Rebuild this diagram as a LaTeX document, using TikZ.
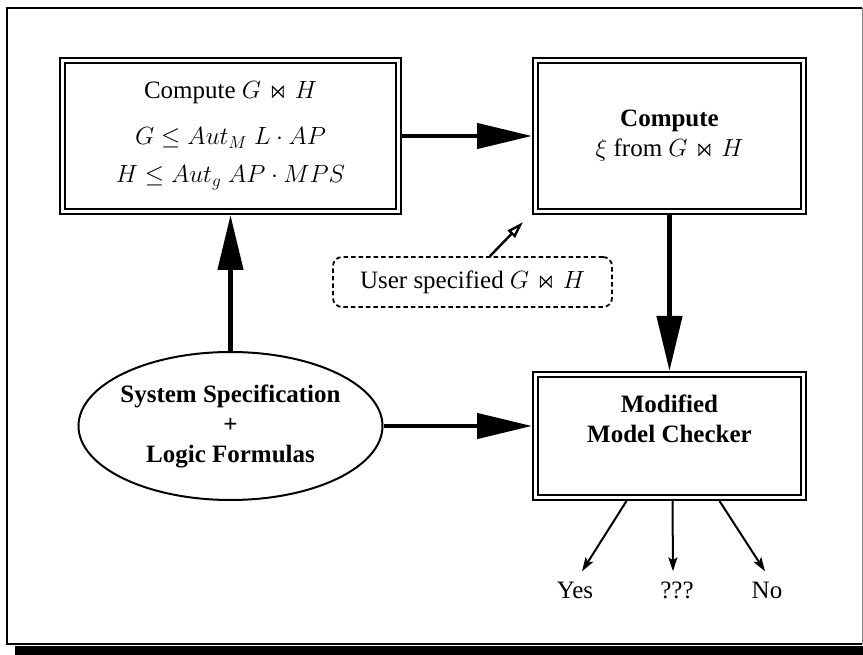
\documentclass[tikz,border=0pt]{standalone}
\usepackage{amsmath,amssymb}
\usepackage{fontspec}
\setmainfont{Liberation Serif}
\usetikzlibrary{positioning,arrows.meta,shapes.geometric}

\begin{document}
\begin{tikzpicture}[
  x=1pt,y=-1pt,
  font=\fontsize{25}{30}\selectfont,
  dbox/.style={draw,double,double distance=2.6pt,line width=2.3pt,minimum width=268pt,minimum height=151pt,inner sep=0pt,outer sep=3.5pt,align=center},
  spec/.style={draw,ellipse,line width=2pt,minimum width=304pt,minimum height=148pt,inner sep=0pt,outer sep=1pt,align=center,font=\fontsize{25}{30}\selectfont\bfseries},
  usr/.style={draw,dashed,dash pattern=on 4.5pt off 3pt,rounded corners=9pt,line width=1.8pt,minimum width=279pt,minimum height=50pt,inner sep=0pt},
  outlbl/.style={text height=17pt,text depth=0pt,inner xsep=0pt,inner ysep=10pt},
  arr/.style={-{Triangle[length=55pt,width=25pt]},line width=4.5pt},
  arro/.style={-{Triangle[open,length=17pt,width=10pt]},line width=2.4pt},
  arrs/.style={-{Stealth[length=14pt,width=9pt,inset=3pt]},line width=2pt}
]
\useasboundingbox (0,0) rectangle (863,655);
% frame with shadow
\fill (15,646) rectangle (863,655);
\draw[line width=1.5pt] (862,8) -- (7,8) -- (7,644) -- (862,644);
\draw[gray,line width=.8pt] (862,8) -- (862,644);

\node[dbox,minimum width=336pt] (cmpjoin) at (230.5,136)
  {Compute $G \Join H$\\[16pt] $G \le Aut_M\; L \cdot AP$\\[8pt] $H \le Aut_g\; AP \cdot MPS$};
\node[dbox,right=130pt of cmpjoin] (cmpxi) {\textbf{Compute}\\ $\xi$ from $G \Join H$};
\node[dbox,minimum height=123pt,below=156pt of cmpxi] (mchk) {\textbf{Modified}\\ \textbf{Model Checker}\\[-4pt] \strut};
\node[spec,below=136pt of cmpjoin] (sysspec) {\makebox[200pt]{System Specification}\\ +\\ Logic Formulas};
\node[usr] (usrjoin) at (472.5,282) {User specified $G \Join H$};
\node[outlbl] (yes) at (575,590) {Yes};
\node[outlbl] (unk) at (677,590) {???};
\node[outlbl] (no) at (767,590) {No};

\draw[arr] (cmpjoin) -- (cmpxi);
\draw[arr] (sysspec) -- (cmpjoin);
\draw[arr] (cmpxi) -- (mchk);
\draw[arr] (sysspec.east) -- (sysspec.east -| mchk.west);
\draw[arro] ([xshift=17.5pt]usrjoin.north) -- ([xshift=-9pt,yshift=-7pt]cmpxi.south west);
\draw[arrs] ([xshift=-43pt]mchk.south) -- ([xshift=7pt]yes.north);
\draw[arrs] ([xshift=3pt]mchk.south) -- ([xshift=-4pt]unk.north);
\draw[arrs] ([xshift=50pt]mchk.south) -- ([xshift=-2pt]no.north);
\end{tikzpicture}
\end{document}
